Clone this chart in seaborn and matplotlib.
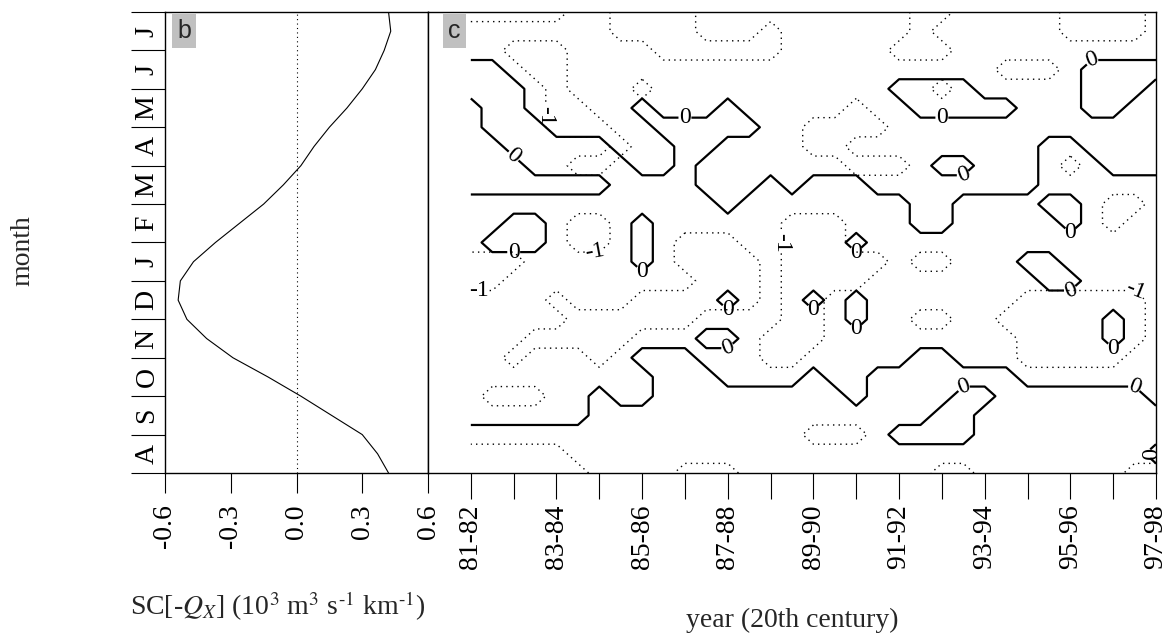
import numpy as np
import matplotlib
matplotlib.use("Agg")
import matplotlib.pyplot as plt
import seaborn as sns

sns.set_theme(style="ticks")
plt.rcParams['font.family'] = ['Liberation Serif', 'DejaVu Serif']
plt.rcParams['mathtext.fontset'] = 'stix'
plt.rcParams['axes.edgecolor'] = 'black'
plt.rcParams['xtick.color'] = 'black'
plt.rcParams['ytick.color'] = 'black'

# panel b: seasonal cycle, one value every half month (Aug -> Jul)
sc_month = np.arange(0, 12.01, 0.5)
sc_value = [0.42, 0.37, 0.30, 0.16, 0.02, -0.13, -0.29, -0.41, -0.50, -0.54,
            -0.53, -0.47, -0.37, -0.26, -0.15, -0.06, 0.02, 0.08, 0.15, 0.23,
            0.30, 0.36, 0.40, 0.43, 0.42]
month_labels = ['A', 'S', 'O', 'N', 'D', 'J', 'F', 'M', 'A', 'M', 'J', 'J']
sc_ticks = [-0.6, -0.3, 0.0, 0.3, 0.6]
sc_ticklabels = ['-0.6', '-0.3', '0.0', '0.3', '0.6']

# panel c: grid, every half year (81 -> 97) and
# every half month (top row = end of July, bottom row = start of August)
grid_years = np.arange(81, 97.01, 0.5)
grid_months = np.arange(12, -0.01, -0.5)

# '1' = inside the solid 0 contour
solid_rows = [
    "111111111111111111111111111111111",
    "111111111111111111111111111111111",
    "111111111111111111111111111111111",
    "001111111111111111111111111110000",
    "000111111111111111110000111110001",
    "100111110111011111111000001110011",
    "100011111000001111111111111111111",
    "110000011100111111111111111001111",
    "111000001101111111111100111000111",
    "111111100001110100011111111000000",
    "000000000000100000000110000110000",
    "001100001000000000000110000010000",
    "011100001000000000100000000000000",
    "000000001000000000000000001100000",
    "000000000000000000000000000110000",
    "000000000000100010100000000000000",
    "000000000000000000100000000000100",
    "000000000001100000000000000000100",
    "000000001110000000000110000000000",
    "000000000111000010011111110000000",
    "000000100111111111011110011111110",
    "000000111111111111111100111111111",
    "111111111111111111110000111111111",
    "111111111111111111111111111111110",
    "111111111111111111111111111111111",
]

# '1' = inside the dotted -1 contour
dotted_rows = [
    "111110011110000000000110000011110",
    "000000011110001000000100000011110",
    "001110000111111000001110000000000",
    "000110000000000000000000011100000",
    "000010001000000000000010000000000",
    "000011000000000000100000000000000",
    "000011100000000011110000000000000",
    "000000010000000011000000000000000",
    "000001100000000000111000000010000",
    "000000000000000000000000000000000",
    "000000000000000000000000000000110",
    "000001100000000111000000000000100",
    "000001100011100111000000000000000",
    "111000000011110111110110000000000",
    "110000000001110111100000000000000",
    "000010001111110110000000001111110",
    "000001111110000110000110011111110",
    "000111110000001110000000001111110",
    "001000100000001100000000001111100",
    "000000000000000000000000000000000",
    "011100000000000000000000000000000",
    "000000000000000000000000000000000",
    "000000000000000011100000000000000",
    "111110000000000000000000000000000",
    "111111000011100000000011000000011",
]

year_ticks = list(range(81, 98))
year_labels = ['81-82', '', '83-84', '', '85-86', '', '87-88', '', '89-90',
               '', '91-92', '', '93-94', '', '95-96', '', '97-98']

solid = np.array([[int(c) for c in r] for r in solid_rows])
dotted = np.array([[int(c) for c in r] for r in dotted_rows])
zero_field = np.where(solid == 1, 0.5, -0.5)
minus_field = np.where(dotted == 1, -1.5, -0.5)

fig = plt.figure(figsize=(11.73, 6.38), dpi=100)
W, H = 1173, 638
axb = fig.add_axes([165 / W, (H - 473) / H, (428 - 165) / W, (473 - 12) / H])
axc = fig.add_axes([428 / W, (H - 473) / H, (1156 - 428) / W, (473 - 12) / H])

# ---- panel b
sns.lineplot(x=sc_value, y=sc_month, orient='y', sort=False, color='black',
             linewidth=0.8, ax=axb)
axb.axvline(0, color='black', linewidth=0.8, linestyle=(0, (1, 3)))
axb.set_xlim(-0.6, 0.6)
axb.set_ylim(0, 12)
axb.set_xticks(sc_ticks)
axb.set_xticklabels(sc_ticklabels, rotation=90, fontsize=20)
axb.tick_params(axis='x', direction='out', length=14.4, width=0.8, pad=8)
axb.set_yticks(range(13))
axb.set_yticklabels([])
axb.tick_params(axis='y', which='major', direction='out', length=24.5, width=0.8)
axb.set_yticks(np.arange(0.5, 12, 1), minor=True)
axb.set_yticklabels(month_labels, minor=True, rotation=90, va='center',
                    fontsize=20)
axb.tick_params(axis='y', which='minor', length=0, pad=4)
axb.set_xlabel('')
axb.set_ylabel('')
axb.text(0.046, 0.985, 'b', transform=axb.transAxes, family='Liberation Sans',
         fontsize=18, va='top', ha='left',
         bbox=dict(boxstyle='square,pad=0.2', fc='#c0c0c0', ec='none'))

# ---- panel c
cs0 = axc.contour(grid_years, grid_months, zero_field, levels=[0],
                  colors='black', linewidths=1.6)
cs1 = axc.contour(grid_years, grid_months, minus_field, levels=[-1],
                  colors='black', linewidths=1.0,
                  linestyles=[(0, (1, 3))])
try:
    cs0.set_joinstyle('round')
except Exception:
    pass
axc.clabel(cs0, fmt='%d', fontsize=17, inline=True, inline_spacing=1)
axc.clabel(cs1, fmt='%d', fontsize=17, inline=True, inline_spacing=1,
           manual=[(83.1, 9.3), (83.9, 5.8), (81.2, 5.0), (88.3, 6.0),
                   (96.7, 5.0)])
axc.set_xlim(80, 97)
axc.set_ylim(0, 12)
axc.set_yticks([])
axc.set_xticks(year_ticks)
axc.set_xticklabels(year_labels, rotation=90, fontsize=20)
axc.tick_params(axis='x', direction='out', length=18.7, width=0.8, pad=4)
axc.text(0.0275, 0.985, 'c', transform=axc.transAxes, family='Liberation Sans',
         fontsize=18, va='top', ha='left',
         bbox=dict(boxstyle='square,pad=0.2', fc='#c0c0c0', ec='none'))

for ax in (axb, axc):
    for s in ax.spines.values():
        s.set_linewidth(1.0)
        s.set_color('black')

fig.text(23 / W, 1 - 251 / H, 'month', rotation=90, fontsize=20,
         va='center', ha='center')
xlab = fig.text(130 / W, 1 - 606 / H,
                r'SC[-$Q_X$] (10$^3$ m$^3$ s$^{\text{-}1}$ km$^{\text{-}1}$)',
                fontsize=20, va='center', ha='left')
try:
    fig.canvas.draw()
except Exception:
    xlab.set_text(r'SC[-$Q_X$] (10$^3$ m$^3$ s$^{-1}$ km$^{-1}$)')
fig.text(792 / W, 1 - 620 / H, 'year (20th century)', fontsize=20,
         va='center', ha='center')

fig.savefig('out.png', dpi=100)
